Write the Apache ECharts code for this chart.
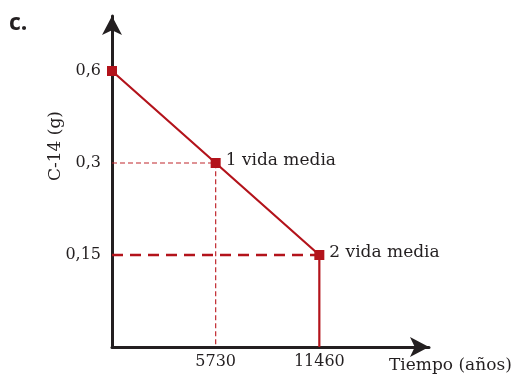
<!DOCTYPE html>
<html><head><meta charset="utf-8">
<script src="https://cdn.jsdelivr.net/npm/echarts@6/dist/echarts.min.js"></script>
<style>html,body{margin:0;padding:0;background:#fff}#c{width:513px;height:375px}</style>
</head><body><div id="c"></div>
<script>
// Data
const times = [0, 5730, 11460];
const masses = [0.6, 0.3, 0.15];
const pointLabels = ['', '1 vida media', '2 vida media'];
const yTicks = [0, 0.15, 0.3, 0.6];
const xTicksShown = [5730, 11460];
const halfLife = 5730;

const RED = '#b3131b';
const DASH = '#c0272d';
const INK = '#231f20';
const SERIF = '"DejaVu Serif", serif';

const yCats = yTicks.map(String);
const toComma = s => String(s).replace('.', ',');

const mainData = times.map((t, i) => ({
  value: [t, String(masses[i])],
  label: pointLabels[i] ? {
    show: true, formatter: pointLabels[i], position: 'right', distance: 5,
    offset: [0, -2], color: INK, fontFamily: SERIF, fontSize: 17
  } : { show: false }
}));
mainData.push({ value: [times[2], String(yTicks[0])], symbol: 'none' });

const chart = echarts.init(document.getElementById('c'), null, { renderer: 'canvas' });
chart.setOption({
  animation: false,
  grid: [
    { left: 112, top: 16, right: 84, bottom: 28 },
    { left: 112, top: 71, right: 90, bottom: 28 }
  ],
  xAxis: [
    {
      gridIndex: 0, type: 'value', min: 0, max: 1,
      axisLine: { show: true, symbol: ['none', 'arrow'], symbolSize: [15, 19],
        lineStyle: { color: INK, width: 3 } },
      axisTick: { show: false }, axisLabel: { show: false }, splitLine: { show: false }
    },
    {
      gridIndex: 1, type: 'value', min: 0, max: halfLife * 3, interval: halfLife,
      axisLine: { show: false }, axisTick: { show: false }, splitLine: { show: false },
      axisLabel: {
        show: true, margin: 7, color: INK, fontFamily: SERIF, fontSize: 16,
        showMinLabel: true, showMaxLabel: true,
        formatter: v => xTicksShown.indexOf(v) >= 0 ? String(v) : ''
      }
    }
  ],
  yAxis: [
    {
      gridIndex: 0, type: 'value', min: 0, max: 1,
      axisLine: { show: true, symbol: ['none', 'arrow'], symbolSize: [15, 19],
        lineStyle: { color: INK, width: 3 } },
      axisTick: { show: false }, axisLabel: { show: false }, splitLine: { show: false }
    },
    {
      gridIndex: 1, type: 'category', data: yCats, boundaryGap: false,
      axisLine: { show: false }, axisTick: { show: false }, splitLine: { show: false },
      axisLabel: {
        show: true, margin: 11, color: INK, fontFamily: SERIF, fontSize: 16,
        formatter: v => Number(v) === 0 ? '' : toComma(v)
      }
    }
  ],
  series: [
    {
      type: 'line', xAxisIndex: 1, yAxisIndex: 1, symbol: 'none', z: 2,
      lineStyle: { color: DASH, width: 1.2, type: [5, 3] },
      data: [[0, String(masses[1])], [times[1], String(masses[1])], [times[1], String(yTicks[0])]]
    },
    {
      type: 'line', xAxisIndex: 1, yAxisIndex: 1, symbol: 'none', z: 2,
      lineStyle: { color: RED, width: 2.5, type: [11, 7] },
      data: [[0, String(masses[2])], [times[2], String(masses[2])]]
    },
    {
      type: 'line', xAxisIndex: 1, yAxisIndex: 1, z: 3,
      symbol: 'rect', symbolSize: 10, showAllSymbol: true,
      itemStyle: { color: RED },
      lineStyle: { color: RED, width: 2.2 },
      data: mainData
    }
  ],
  graphic: [
    { type: 'text', x: 9, y: 23, style: { text: 'c.', fill: INK,
      font: 'bold 23px "Open Sans", sans-serif', textAlign: 'left', textVerticalAlign: 'middle' } },
    { type: 'text', x: 56, y: 146, rotation: Math.PI / 2, style: { text: 'C-14 (g)', fill: INK,
      font: '17px "DejaVu Serif", serif', textAlign: 'center', textVerticalAlign: 'middle' } },
    { type: 'text', x: 389, y: 366, style: { text: 'Tiempo (años)', fill: INK,
      font: '17px "DejaVu Serif", serif', textAlign: 'left', textVerticalAlign: 'middle' } }
  ]
});
</script>
</body></html>
